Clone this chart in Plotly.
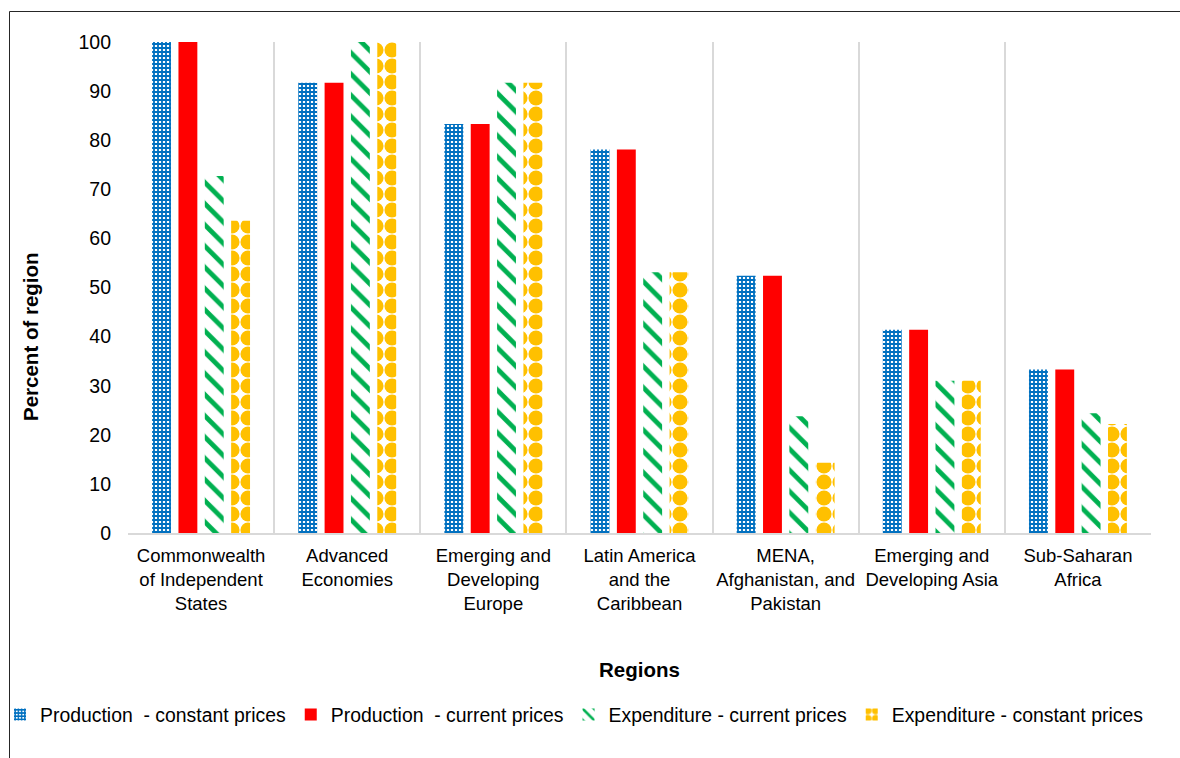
import plotly.graph_objects as go

# Share of countries in each region (percent)
regions = [
    "Commonwealth<br>of Independent<br>States",
    "Advanced<br>Economies",
    "Emerging and<br>Developing<br>Europe",
    "Latin America<br>and the<br>Caribbean",
    "MENA,<br>Afghanistan, and<br>Pakistan",
    "Emerging and<br>Developing Asia",
    "Sub-Saharan<br>Africa",
]
prod_constant = [100.0, 91.7, 83.3, 78.1, 52.4, 41.4, 33.3]
prod_current = [100.0, 91.7, 83.3, 78.1, 52.4, 41.4, 33.3]
exp_current = [72.7, 100.0, 91.7, 53.1, 23.8, 31.0, 24.4]
exp_constant = [63.6, 100.0, 91.7, 53.1, 14.3, 31.0, 22.2]

series_names = [
    "Production  - constant prices",
    "Production  - current prices",
    "Expenditure - current prices",
    "Expenditure - constant prices",
]

BLUE = "#0070C0"
RED = "#FF0000"
GREEN = "#00B050"
GOLD = "#FFC000"
FONT = "Liberation Sans, Arial, sans-serif"

fig = go.Figure()
fig.add_trace(go.Bar(
    x=regions, y=prod_constant, name=series_names[0],
    marker=dict(color="white", line=dict(width=0),
                pattern=dict(shape="+", fgcolor=BLUE, bgcolor="white",
                             size=4, solidity=0.7, fillmode="replace")),
))
fig.add_trace(go.Bar(
    x=regions, y=prod_current, name=series_names[1],
    marker=dict(color=RED, line=dict(width=0)),
))
fig.add_trace(go.Bar(
    x=regions, y=exp_current, name=series_names[2],
    marker=dict(color="white", line=dict(width=0),
                pattern=dict(shape="\\", fgcolor=GREEN, bgcolor="white",
                             size=15, solidity=0.32, fillmode="replace")),
))
fig.add_trace(go.Bar(
    x=regions, y=exp_constant, name=series_names[3],
    marker=dict(color="white", line=dict(width=0),
                pattern=dict(shape=".", fgcolor=GOLD, bgcolor="white",
                             size=16, solidity=0.7, fillmode="replace")),
))

L, R, T, B = 128, 29, 42, 225
W, H = 1180, 758
pw, ph = W - L - R, H - T - B


def px_x(p):
    return (p - L) / pw


def px_y(p):
    return (H - B - p) / ph


fig.update_layout(
    width=W, height=H,
    margin=dict(l=L, r=R, t=T, b=B, pad=0, autoexpand=False),
    paper_bgcolor="white", plot_bgcolor="white",
    barmode="group", bargap=0.279, bargroupgap=0.283,
    font=dict(family=FONT, color="#000000", size=18.5),
    showlegend=True,
    legend=dict(
        orientation="h", x=px_x(0), xanchor="left",
        y=px_y(715), yanchor="middle",
        font=dict(family=FONT, size=19.4, color="#000000"),
        itemwidth=30, itemsizing="constant", tracegroupgap=0,
        bgcolor="rgba(0,0,0,0)",
    ),
    xaxis=dict(
        type="category", tickson="boundaries", tickangle=0,
        showgrid=True, gridcolor="#D9D9D9", gridwidth=2,
        showline=True, linecolor="#D9D9D9", linewidth=2,
        ticks="", tickfont=dict(family=FONT, size=18.5, color="#000000"),
        ticklabelstandoff=5,
    ),
    yaxis=dict(
        range=[0, 100], dtick=10, tick0=0,
        showgrid=False, zeroline=False, showline=False,
        ticks="", tickfont=dict(family=FONT, size=19.5, color="#000000"),
        ticklabelstandoff=16,
    ),
    annotations=[
        dict(text="<b>Regions</b>", xref="paper", yref="paper",
             x=0.5, y=px_y(670), xanchor="center", yanchor="middle",
             showarrow=False, font=dict(family=FONT, size=20.5, color="#000000")),
        dict(text="<b>Percent of region</b>", xref="paper", yref="paper",
             x=px_x(30), y=px_y(337), xanchor="center", yanchor="middle",
             textangle=-90, showarrow=False,
             font=dict(family=FONT, size=20.5, color="#000000")),
    ],
    shapes=[
        dict(type="rect", xref="paper", yref="paper",
             x0=px_x(9.5), x1=px_x(1300), y0=px_y(900), y1=px_y(11.5),
             line=dict(color="#262626", width=1), fillcolor="rgba(0,0,0,0)",
             layer="below"),
    ],
)

fig.write_html("out.html")
